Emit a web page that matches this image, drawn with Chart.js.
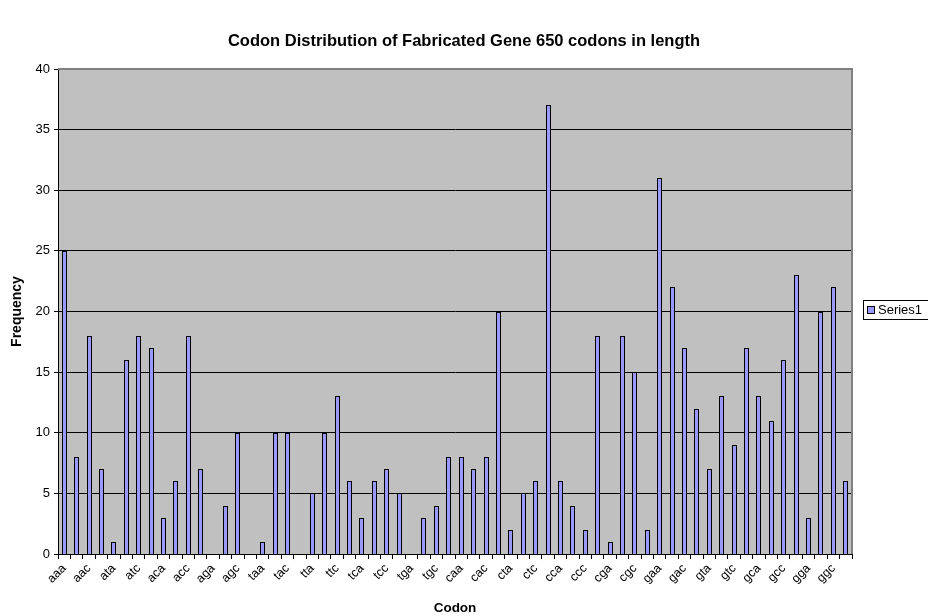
<!DOCTYPE html>
<html>
<head>
<meta charset="utf-8">
<title>Codon Distribution</title>
<script src="https://cdn.jsdelivr.net/npm/chart.js@4/dist/chart.umd.min.js"></script>
<style>
  html, body { margin: 0; padding: 0; background: #ffffff; }
  #wrap { width: 928px; height: 616px; }
</style>
</head>
<body>
<div id="wrap"><canvas id="chart" width="928" height="616"></canvas></div>
<script>
// Codons, ordered by base a, t, c, g in each position
const codons = [
  'aaa','aat','aac','aag','ata','att','atc','atg','aca','act','acc','acg','aga','agt','agc','agg',
  'taa','tat','tac','tag','tta','ttt','ttc','ttg','tca','tct','tcc','tcg','tga','tgt','tgc','tgg',
  'caa','cat','cac','cag','cta','ctt','ctc','ctg','cca','cct','ccc','ccg','cga','cgt','cgc','cgg',
  'gaa','gat','gac','gag','gta','gtt','gtc','gtg','gca','gct','gcc','gcg','gga','ggt','ggc','ggg'
];

// Number of times each codon occurs in the 650-codon gene
const frequencies = [
  25, 8, 18, 7, 1, 16, 18, 17, 3, 6, 18, 7, 0, 4, 10, 0,
  1, 10, 10, 0, 5, 10, 13, 6, 3, 6, 7, 5, 0, 3, 4, 8,
  8, 7, 8, 20, 2, 5, 6, 37, 6, 4, 2, 18, 1, 18, 15, 2,
  31, 22, 17, 12, 7, 13, 9, 17, 13, 11, 16, 23, 3, 20, 22, 6
];

const yTicks = { min: 0, max: 40, step: 5 };
const seriesName = 'Series1';

const FONT = "'Liberation Sans', Arial, Helvetica, sans-serif";

// Snap the bars computed by the scales onto whole pixels so edges stay crisp
const crispBars = {
  id: 'crispBars',
  beforeDatasetsDraw(chart) {
    chart.getDatasetMeta(0).data.forEach(bar => {
      bar.x = Math.floor(bar.x) + 0.5;
      bar.width = 5;
      bar.y = Math.round(bar.y);
      bar.base = Math.round(bar.base);
    });
  }
};

// Grey plot area, its border and the boxed legend on the right
const plotDecor = {
  id: 'plotDecor',
  beforeDraw(chart) {
    const { ctx, chartArea: a } = chart;
    ctx.save();
    ctx.fillStyle = '#c0c0c0';
    ctx.fillRect(a.left, a.top, a.right - a.left, a.bottom - a.top);
    ctx.restore();
  },
  afterDraw(chart) {
    const { ctx, chartArea: a } = chart;
    ctx.save();
    // plot border (top and right)
    ctx.strokeStyle = '#808080';
    ctx.lineWidth = 2;
    ctx.beginPath();
    ctx.moveTo(a.left, a.top);
    ctx.lineTo(a.right, a.top);
    ctx.lineTo(a.right, a.bottom);
    ctx.stroke();

    // legend
    const ds = chart.data.datasets[0];
    ctx.lineWidth = 1;
    ctx.strokeStyle = '#000000';
    ctx.fillStyle = '#ffffff';
    ctx.fillRect(863.5, 300.5, 70, 19);
    ctx.strokeRect(863.5, 300.5, 70, 19);
    ctx.fillStyle = ds.backgroundColor;
    ctx.fillRect(867.5, 306.5, 7, 7);
    ctx.strokeRect(867.5, 306.5, 7, 7);
    ctx.fillStyle = '#000000';
    ctx.font = '13px ' + FONT;
    ctx.textBaseline = 'middle';
    ctx.textAlign = 'left';
    ctx.fillText(ds.label, 878, 310.5);
    ctx.restore();
  }
};

new Chart(document.getElementById('chart'), {
  type: 'bar',
  data: {
    labels: codons,
    datasets: [{
      label: seriesName,
      data: frequencies,
      backgroundColor: '#9999ff',
      borderColor: '#000000',
      borderWidth: 1,
      categoryPercentage: 1.0,
      barPercentage: 0.42
    }]
  },
  options: {
    responsive: false,
    animation: false,
    devicePixelRatio: 1,
    layout: { padding: 0 },
    plugins: {
      legend: { display: false },
      tooltip: { enabled: false },
      title: {
        display: true,
        text: 'Codon Distribution of Fabricated Gene 650 codons in length',
        color: '#000000',
        font: { family: FONT, size: 16.5, weight: 'bold', lineHeight: 1.2 },
        padding: { top: 31.3, bottom: 17.9 }
      }
    },
    scales: {
      x: {
        offset: true,
        grid: {
          display: true,
          offset: true,
          drawOnChartArea: false,
          drawTicks: true,
          tickLength: 5,
          color: '#000000'
        },
        border: { display: true, color: '#000000', width: 1 },
        ticks: {
          autoSkip: false,
          minRotation: 45,
          maxRotation: 45,
          padding: 2,
          color: '#000000',
          font: { family: FONT, size: 12.5 },
          callback: (v, i) => (i % 2 === 0 ? codons[i] : '')
        },
        title: {
          display: true,
          text: 'Codon',
          color: '#000000',
          font: { family: FONT, size: 13.5, weight: 'bold' },
          padding: { top: 2, bottom: 0 }
        },
        afterFit(scale) { scale.height = 62; }
      },
      y: {
        min: yTicks.min,
        max: yTicks.max,
        grid: {
          color: '#000000',
          tickLength: 4,
          drawTicks: true
        },
        border: { display: true, color: '#000000', width: 1 },
        ticks: {
          stepSize: yTicks.step,
          padding: 4,
          color: '#000000',
          font: { family: FONT, size: 13 }
        },
        title: {
          display: true,
          text: 'Frequency',
          color: '#000000',
          font: { family: FONT, size: 14, weight: 'bold' },
          padding: { top: 9, bottom: 0 }
        },
        afterFit(scale) { scale.width = 58; }
      },
      // empty right-hand strip that holds the legend
      legendStrip: {
        type: 'linear',
        position: 'right',
        display: true,
        grid: { display: false, drawTicks: false },
        border: { display: false },
        ticks: { display: false },
        afterFit(scale) { scale.width = 76; }
      }
    }
  },
  plugins: [crispBars, plotDecor]
});
</script>
</body>
</html>
